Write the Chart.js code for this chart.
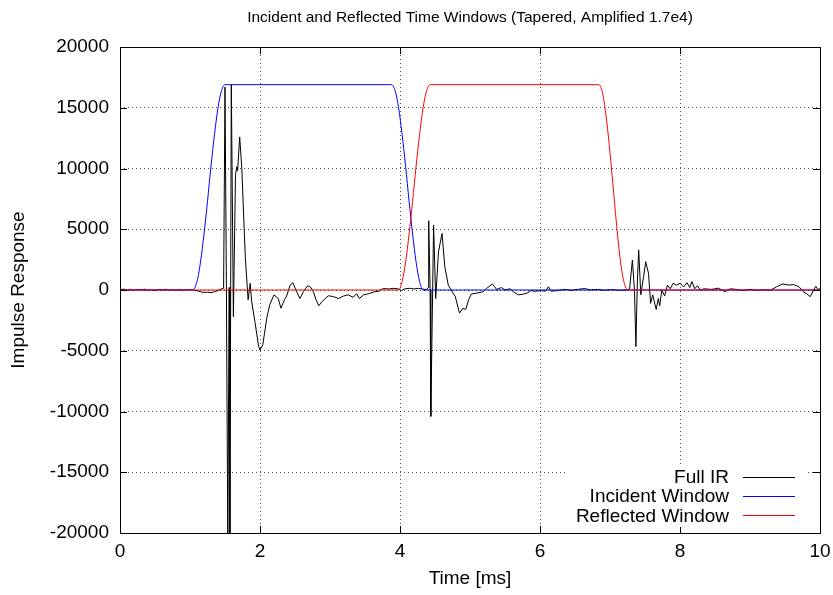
<!DOCTYPE html>
<html>
<head>
<meta charset="utf-8">
<script src="https://cdn.jsdelivr.net/npm/chart.js@4.4.0/dist/chart.umd.min.js"></script>
<style>
  html, body { margin: 0; padding: 0; background: #fff; }
</style>
</head>
<body>
<canvas id="irChart" width="833" height="595"></canvas>
<script>
// Full impulse response, time in ms
const irTime = [
  0.00, 0.05, 0.10, 0.15, 0.20, 0.25, 0.30, 0.35, 0.40, 0.45,
  0.50, 0.55, 0.60, 0.65, 0.70, 0.75, 0.80, 0.85, 0.90, 0.95,
  1.00, 1.05, 1.10, 1.15, 1.20, 1.25, 1.30, 1.35, 1.40, 1.45,
  1.48, 1.50, 1.52, 1.54, 1.56, 1.57, 1.59, 1.62, 1.65, 1.67,
  1.68, 1.71, 1.74, 1.79, 1.83, 1.86, 1.88, 1.93, 1.98, 2.00,
  2.04, 2.10, 2.14, 2.20, 2.26, 2.30, 2.35, 2.38, 2.43, 2.47,
  2.52, 2.57, 2.62, 2.68, 2.72, 2.76, 2.80, 2.84, 2.88, 2.93,
  2.98, 3.05, 3.12, 3.19, 3.26, 3.33, 3.38, 3.42, 3.48, 3.52,
  3.57, 3.64, 3.70, 3.74, 3.79, 3.84, 3.90, 3.98, 4.02, 4.07,
  4.14, 4.20, 4.26, 4.32, 4.38, 4.40, 4.41, 4.43, 4.44, 4.48,
  4.51, 4.55, 4.60, 4.64, 4.69, 4.74, 4.79, 4.85, 4.90, 4.94,
  4.98, 5.02, 5.10, 5.19, 5.24, 5.32, 5.38, 5.45, 5.50, 5.57,
  5.62, 5.69, 5.75, 5.81, 5.87, 5.93, 6.02, 6.08, 6.12, 6.16,
  6.25, 6.35, 6.45, 6.55, 6.64, 6.72, 6.82, 6.92, 7.02, 7.12,
  7.24, 7.28, 7.32, 7.35, 7.37, 7.39, 7.41, 7.44, 7.48, 7.51,
  7.55, 7.58, 7.61, 7.66, 7.69, 7.71, 7.74, 7.78, 7.82, 7.86,
  7.90, 7.95, 8.00, 8.05, 8.10, 8.14, 8.17, 8.21, 8.25, 8.29,
  8.35, 8.45, 8.55, 8.64, 8.72, 8.80, 8.90, 9.00, 9.10, 9.20,
  9.29, 9.38, 9.47, 9.55, 9.62, 9.70, 9.76, 9.81, 9.86, 9.91,
  9.94, 9.97, 10.00
];
const irValue = [
  0, 80, -50, 60, -30, 50, 0, 70, -40, 30,
  -60, 50, 0, 60, -30, 40, -20, 50, -40, 20,
  40, -20, -60, -150, -200, -180, -220, -150, -50, 100,
  150, 16700, 400, -21000, 200, -21000, 16900, -2200, 9500, 10150,
  9800, 12600, 10000, 2700, -800, 550, -900, -2700, -4650, -4950,
  -4500, -2200, -1200, -400, -700, -1500, -800, -500, 400, 600,
  -100, -700, -140, 350, 250, -100, -800, -1300, -1000, -700,
  -470, -550, -700, -500, -400, -600, -300, -700, -400, -350,
  -270, -140, -100, 80, 120, 80, 140, 80, -50, 100,
  140, 80, 140, 80, 20, 200, 5700, 0, -10400, 5350,
  -700, 3150, 4650, 1900, 400, -100, -550, -1900, -1500, -1600,
  -800, -330, -250, -140, 140, 500, 50, 200, 0, 100,
  -140, -400, -350, -270, -50, -100, -50, -100, 270, -100,
  -50, 50, -30, 60, 120, 0, 50, -30, 40, -20,
  0, 100, 2470, -100, -4650, 500, 3300, -400, 1100, 2330,
  1370, -1100, -400, -1600, -700, -1300, 0, -500, 400, 100,
  550, 400, 550, 250, 600, 200, 700, 100, 350, 0,
  100, 50, 150, -140, 100, 50, -50, 60, -40, 20,
  -20, 270, 500, 400, 450, 270, -140, -300, -550, 0,
  300, 50, 100
];

// Tapered windows
const incidentTime = [0, 1.04, 1.10, 1.15, 1.20, 1.25, 1.30, 1.35, 1.40, 1.45, 1.50,
  3.88, 3.93, 3.98, 4.03, 4.08, 4.13, 4.18, 4.23, 4.28, 4.33, 10];
const incidentValue = [0, 0, 700, 2300, 4600, 7300, 10200, 12800, 15000, 16400, 16900,
  16900, 16400, 15000, 12800, 10200, 7300, 4600, 2300, 700, 0, 0];

const reflectedTime = [0, 3.98, 4.03, 4.08, 4.13, 4.18, 4.23, 4.28, 4.33, 4.38, 4.43,
  6.84, 6.89, 6.94, 6.99, 7.04, 7.09, 7.14, 7.19, 7.25, 10];
const reflectedValue = [0, 0, 700, 2300, 4600, 7300, 10200, 12800, 15000, 16400, 16900,
  16900, 16300, 14500, 11900, 8800, 5600, 2800, 900, 0, 0];

const xTicks = [0, 2, 4, 6, 8, 10];
const yTicks = [-20000, -15000, -10000, -5000, 0, 5000, 10000, 15000, 20000];

const chartTitle = "Incident and Reflected Time Windows (Tapered, Amplified 1.7e4)";
const FONT = "'Liberation Sans', Arial, sans-serif";

function toPoints(xs, ys) {
  return xs.map((x, i) => ({ x: x, y: ys[i] }));
}

// gnuplot style frame with inward ticks on all four sides, title over the plot
const frame = {
  id: "frame",
  afterDraw(chart) {
    const ctx = chart.ctx;
    const a = chart.chartArea;
    const xs = chart.scales.x, ys = chart.scales.y;
    ctx.save();
    ctx.strokeStyle = "#000";
    ctx.lineWidth = 1;
    ctx.strokeRect(Math.round(a.left) + 0.5, Math.round(a.top) + 0.5,
      Math.round(a.right - a.left), Math.round(a.bottom - a.top));
    ctx.beginPath();
    xTicks.forEach(v => {
      const px = Math.round(xs.getPixelForValue(v)) + 0.5;
      ctx.moveTo(px, a.bottom); ctx.lineTo(px, a.bottom - 7);
      ctx.moveTo(px, a.top); ctx.lineTo(px, a.top + 7);
    });
    yTicks.forEach(v => {
      const py = Math.round(ys.getPixelForValue(v)) + 0.5;
      ctx.moveTo(a.left, py); ctx.lineTo(a.left + 7, py);
      ctx.moveTo(a.right, py); ctx.lineTo(a.right - 7, py);
    });
    ctx.stroke();

    ctx.fillStyle = "#000";
    ctx.font = "15.5px " + FONT;
    ctx.textAlign = "center";
    ctx.textBaseline = "middle";
    ctx.fillText(chartTitle, (a.left + a.right) / 2, 18);
    ctx.restore();
  }
};

// key in the lower right corner: text right aligned, sample line after it
const key = {
  id: "key",
  afterDraw(chart) {
    const ctx = chart.ctx;
    ctx.save();
    ctx.fillStyle = "#fff";
    ctx.fillRect(566, 467, 240, 60);
    ctx.font = "19px " + FONT;
    ctx.textAlign = "right";
    ctx.textBaseline = "middle";
    chart.data.datasets.forEach((ds, i) => {
      const y = 477 + i * 19.2;
      ctx.fillStyle = "#000";
      ctx.fillText(ds.label, 729, y + 1);
      ctx.strokeStyle = ds.borderColor;
      ctx.lineWidth = 1;
      ctx.beginPath();
      ctx.moveTo(743, Math.round(y) + 0.5);
      ctx.lineTo(795, Math.round(y) + 0.5);
      ctx.stroke();
    });
    ctx.restore();
  }
};

new Chart(document.getElementById("irChart"), {
  type: "line",
  data: {
    datasets: [
      {
        label: "Full IR",
        data: toPoints(irTime, irValue),
        borderColor: "#000000",
        borderWidth: 1,
        pointRadius: 0,
        order: 3,
      },
      {
        label: "Incident Window",
        data: toPoints(incidentTime, incidentValue),
        borderColor: "#0000ff",
        borderWidth: 1,
        pointRadius: 0,
        cubicInterpolationMode: "monotone",
        order: 2,
      },
      {
        label: "Reflected Window",
        data: toPoints(reflectedTime, reflectedValue),
        borderColor: "#ff0000",
        borderWidth: 1,
        pointRadius: 0,
        cubicInterpolationMode: "monotone",
        order: 1,
      },
    ],
  },
  options: {
    responsive: false,
    animation: false,
    devicePixelRatio: 1,
    layout: { padding: { left: 0, right: 13, top: 47, bottom: 0 } },
    plugins: {
      legend: { display: false },
      tooltip: { enabled: false },
      title: { display: false },
    },
    scales: {
      x: {
        type: "linear",
        min: 0,
        max: 10,
        afterBuildTicks: s => { s.ticks = xTicks.map(v => ({ value: v })); },
        afterFit: s => { s.height = 62; s.paddingLeft = 0; s.paddingRight = 0; },
        ticks: { color: "#000", padding: 7, font: { family: FONT, size: 19 }, callback: v => String(v) },
        grid: { color: "rgba(0,0,0,0.7)", lineWidth: 1, drawTicks: false, borderDash: [1, 3] },
        border: { display: false, dash: [1, 3] },
        title: {
          display: true,
          text: "Time [ms]",
          color: "#000",
          font: { family: FONT, size: 19 },
          padding: { top: 0, bottom: 5 },
        },
      },
      y: {
        type: "linear",
        min: -20000,
        max: 20000,
        afterBuildTicks: s => { s.ticks = yTicks.map(v => ({ value: v })); },
        afterFit: s => { s.width = 120; },
        ticks: { color: "#000", padding: 11, font: { family: FONT, size: 19 }, callback: v => String(v) },
        grid: { color: "rgba(0,0,0,0.7)", lineWidth: 1, drawTicks: false, borderDash: [1, 3] },
        border: { display: false, dash: [1, 3] },
        title: {
          display: true,
          text: "Impulse Response",
          color: "#000",
          font: { family: FONT, size: 19 },
          padding: { top: 7, bottom: 0 },
        },
      },
    },
  },
  plugins: [frame, key],
});
</script>
</body>
</html>
